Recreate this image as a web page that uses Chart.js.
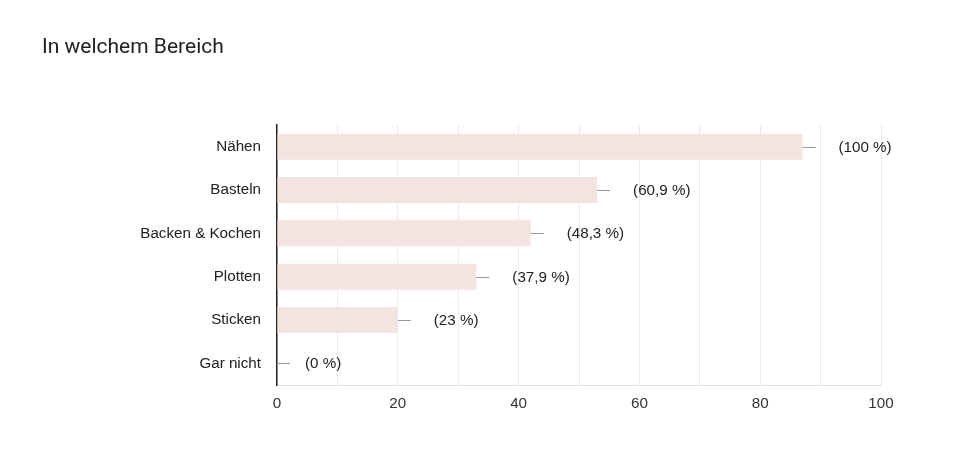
<!DOCTYPE html>
<html>
<head>
<meta charset="utf-8">
<script src="https://cdn.jsdelivr.net/npm/chart.js@4"></script>
<style>
  html,body{margin:0;padding:0;background:#fff;}
  #wrap{width:974px;height:468px;}
</style>
</head>
<body>
<div id="wrap"><canvas id="c" width="974" height="468"></canvas></div>
<script>
const TITLE = 'In welchem Bereich';
const categories = ['Nähen', 'Basteln', 'Backen & Kochen', 'Plotten', 'Sticken', 'Gar nicht'];
const counts = [87, 53, 42, 33, 20, 0];
const pctLabels = ['(100 %)', '(60,9 %)', '(48,3 %)', '(37,9 %)', '(23 %)', '(0 %)'];
const xTicks = [0, 20, 40, 60, 80, 100];

const FONT = '"Liberation Sans", Arial, sans-serif';

// title + small marker line + percent label after each bar
const annotate = {
  id: 'annotate',
  afterDraw(chart){
    const {ctx, scales:{x, y}} = chart;
    ctx.save();
    ctx.fillStyle = '#212121';
    ctx.font = '21px Roboto, sans-serif';
    ctx.textBaseline = 'middle';
    ctx.fillText(TITLE, 42, 48);

    ctx.font = '15.2px ' + FONT;
    counts.forEach((v, i) => {
      const px = x.getPixelForValue(v), py = Math.round(y.getPixelForValue(i)) + 0.5;
      ctx.strokeStyle = '#999';
      ctx.lineWidth = 1;
      ctx.beginPath(); ctx.moveTo(px, py); ctx.lineTo(px + 13, py); ctx.stroke();
      ctx.fillStyle = '#222';
      ctx.fillText(pctLabels[i], px + (v > 0 ? 36 : 28), py);
    });
    ctx.restore();
  }
};

new Chart(document.getElementById('c'), {
  type: 'bar',
  data: {
    labels: categories,
    datasets: [{
      data: counts,
      backgroundColor: '#f3e4e2',
      borderWidth: 0,
      categoryPercentage: 0.6,
      barPercentage: 1
    }]
  },
  options: {
    indexAxis: 'y',
    responsive: false,
    animation: false,
    layout: { padding: { top: 125, right: 93, left: 0, bottom: 0 } },
    plugins: { legend: { display: false }, tooltip: { enabled: false } },
    scales: {
      x: {
        min: 0, max: 100,
        afterFit: s => { s.height = 83; },
        afterBuildTicks: s => { s.ticks = []; for (let v = 0; v <= 100; v += 10) s.ticks.push({ value: v }); },
        ticks: {
          callback: v => xTicks.includes(v) ? v : '',
          color: '#333', font: { family: FONT, size: 15.2 }, padding: 10,
          autoSkip: false, maxRotation: 0
        },
        grid: { color: '#ebebeb', drawTicks: false },
        border: { color: '#e0e0e0' }
      },
      y: {
        afterFit: s => { s.width = 277; },
        ticks: { color: '#222', font: { family: FONT, size: 15.2 }, padding: 16 },
        grid: { display: false, drawTicks: false },
        border: { color: '#222', width: 1.5 }
      }
    }
  },
  plugins: [annotate]
});
</script>
</body>
</html>
